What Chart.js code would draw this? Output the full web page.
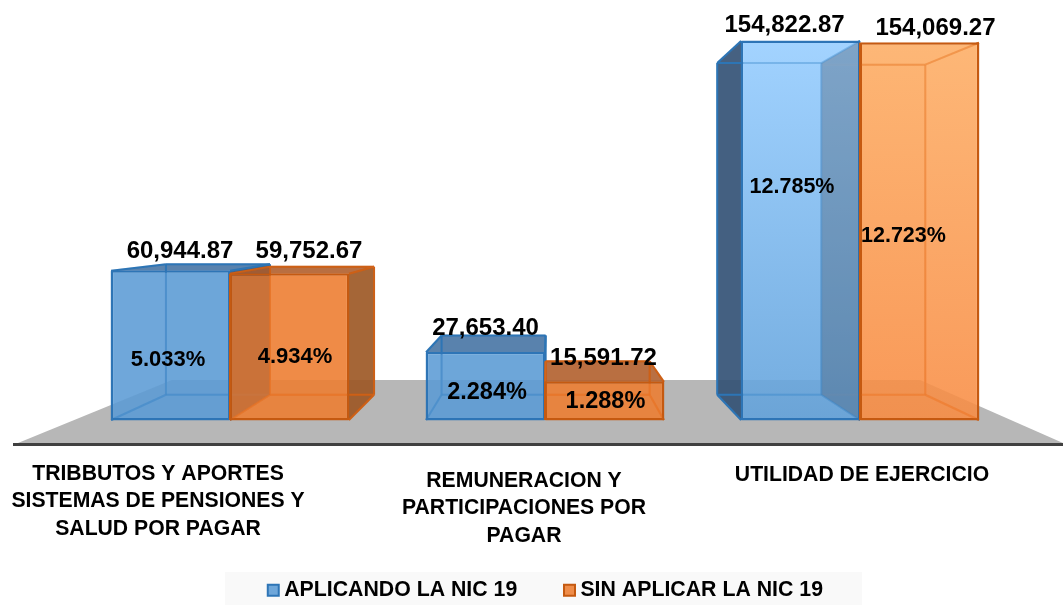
<!DOCTYPE html>
<html>
<head>
<meta charset="utf-8">
<style>
html,body{margin:0;padding:0;background:#fff}
#wrap{width:1063px;height:605px;position:relative}
</style>
<script src="https://cdn.jsdelivr.net/npm/chart.js@4/dist/chart.umd.min.js"></script>
</head>
<body>
<div id="wrap"><canvas id="c" width="1063" height="605"></canvas></div>
<script>
const categories = ["TRIBBUTOS Y APORTES SISTEMAS DE PENSIONES Y SALUD POR PAGAR","REMUNERACION Y PARTICIPACIONES POR PAGAR","UTILIDAD DE EJERCICIO"];
const categoryLines = [["TRIBBUTOS Y APORTES","SISTEMAS DE PENSIONES Y","SALUD POR PAGAR"],["REMUNERACION Y","PARTICIPACIONES POR","PAGAR"],["UTILIDAD DE EJERCICIO"]];
const seriesNames = ["APLICANDO LA NIC 19","SIN APLICAR LA NIC 19"];
const aplicando = [60944.87,27653.40,154822.87];
const sinAplicar = [59752.67,15591.72,154069.27];
const pctAplicando = ["5.033%","2.284%","12.785%"];
const pctSinAplicar = ["4.934%","1.288%","12.723%"];

// layout constants (pixels / styling only)
const BASE_Y = 420, VP = {x:550,y:218}, K = 0.875;
const catLabelPos = [{x:158,y:474},{x:524,y:481},{x:862,y:475}];
const catLineH = 27.5;
const valueOff = [[{x:9.5,y:-19.5},{x:19.5,y:-22.5}],[{x:0,y:-23.5},{x:-1,y:-23.5}],[{x:-16,y:-15.5},{x:16,y:-14.5}]];
const pctOff = [[{x:-2.5,y:14.5,s:22},{x:5.5,y:10,s:22}],[{x:1.5,y:6,s:23.5},{x:1,y:0.5,s:23.5}],[{x:-8.5,y:-43,s:21.5},{x:-16,y:4.5,s:21.5}]];
const style = [
 {stroke:'#2e75b6', flat:'rgba(91,155,213,0.88)', gradTop:'rgba(150,205,255,0.88)', gradBot:'rgba(98,162,219,0.88)',
  side:'rgba(50,80,115,0.9)', top:'rgba(73,118,164,0.9)', back:'rgba(91,155,213,0.10)', edge:'rgba(46,117,182,0.16)', tint:'rgba(60,90,120,0.27)'},
 {stroke:'#c55a11', flat:'rgba(237,125,49,0.88)', gradTop:'rgba(253,173,100,0.88)', gradBot:'rgba(248,140,67,0.88)',
  side:'rgba(155,86,36,0.9)', top:'rgba(177,96,47,0.9)', back:'rgba(237,125,49,0.10)', edge:'rgba(230,115,40,0.25)', tint:'rgba(120,70,50,0.14)'}
];
const FONT = '"Liberation Sans", Arial, sans-serif';

function proj(x,y){return [VP.x+(x-VP.x)*K, VP.y+(y-VP.y)*K];}
function poly(ctx,pts,fill){ctx.beginPath();pts.forEach((p,i)=>i?ctx.lineTo(p[0],p[1]):ctx.moveTo(p[0],p[1]));ctx.closePath();if(fill){ctx.fillStyle=fill;ctx.fill();}}
function line(ctx,a,b){ctx.beginPath();ctx.moveTo(a[0],a[1]);ctx.lineTo(b[0],b[1]);ctx.stroke();}

function barGeom(el){
  const p=el.getProps(['x','y','base','width'],true);
  const l=p.x-p.width/2,r=p.x+p.width/2,t=p.y,b=p.base;
  return {l,r,t,b,fTL:[l,t],fTR:[r,t],fBL:[l,b],fBR:[r,b],bTL:proj(l,t),bTR:proj(r,t),bBL:proj(l,b),bBR:proj(r,b)};
}
function wire(ctx,g){
  line(ctx,g.bTL,g.bTR);line(ctx,g.bBL,g.bBR);line(ctx,g.bTL,g.bBL);line(ctx,g.bTR,g.bBR);
  line(ctx,g.fTL,g.bTL);line(ctx,g.fTR,g.bTR);line(ctx,g.fBL,g.bBL);line(ctx,g.fBR,g.bBR);
}
function drawBox(ctx,el,ds,cat,partnerOnRight){
  const g=barGeom(el), s=style[ds];
  poly(ctx,[g.bTL,g.bTR,g.bBR,g.bBL],s.back);
  poly(ctx,[g.fBL,g.fBR,g.bBR,g.bBL],s.back);
  // faces that stick out of the front rectangle
  if(g.bTR[0]>g.r) poly(ctx,[g.fTR,g.bTR,g.bBR,g.fBR],s.side);
  if(g.bTL[0]<g.l) poly(ctx,[g.fTL,g.bTL,g.bBL,g.fBL],s.side);
  if(g.bTL[1]<g.t) poly(ctx,[g.fTL,g.fTR,g.bTR,g.bTL],s.top);
  ctx.lineWidth=2;ctx.lineJoin='round';ctx.strokeStyle=s.stroke;
  wire(ctx,g);
  el.draw(ctx);
  // shared inner wall seen through the front face
  if(partnerOnRight && g.bTR[0]<g.r) poly(ctx,[g.fTR,g.bTR,g.bBR,g.fBR],s.tint);
  if(!partnerOnRight && g.bTL[0]>g.l+1) poly(ctx,[g.fTL,g.bTL,g.bBL,g.fBL],s.tint);
  ctx.lineWidth=2;ctx.strokeStyle=s.edge;
  wire(ctx,g);
  ctx.lineWidth=1.5;ctx.strokeStyle=s.stroke;
  ctx.strokeRect(g.l+0.5,g.t+0.5,g.r-g.l-1,g.b-g.t-1);
}

const box3d = {
  id:'box3d',
  afterLayout(chart){
    const l=chart.legend;
    l.top=527.5;l.bottom=660;l.left+=3;l.right+=3;
  },
  beforeDraw(chart){
    const c=chart.ctx;
    c.save();
    c.fillStyle='#f9f9f9';c.fillRect(225,572,637,33);
    c.restore();
  },
  beforeDatasetsDraw(chart){
    const c=chart.ctx;
    c.save();
    // floor
    poly(c,[[18,443],[172,380],[920,380],[1063,443]],'#b7b7b7');
    c.fillStyle='#404040';c.fillRect(13,443,1050,3);
    const m0=chart.getDatasetMeta(0).data, m1=chart.getDatasetMeta(1).data;
    categories.forEach((_,i)=>{
      const a=barGeom(m0[i]), b=barGeom(m1[i]);
      const blueFirst=Math.abs(a.l-VP.x)>=Math.abs(b.r-VP.x);
      if(blueFirst){drawBox(c,m0[i],0,i,true);drawBox(c,m1[i],1,i,false);}
      else{drawBox(c,m1[i],1,i,false);drawBox(c,m0[i],0,i,true);}
      // seam between the two front faces
      c.strokeStyle=style[1].stroke;c.lineWidth=2;
      line(c,[b.l,Math.max(a.t,b.t)],[b.l,b.b]);
    });
    c.restore();
  },
  beforeDatasetDraw(){return false;},
  afterDatasetsDraw(chart){
    const c=chart.ctx;
    c.save();
    c.fillStyle='#000';c.textAlign='center';c.textBaseline='middle';
    const vals=[aplicando,sinAplicar], pcts=[pctAplicando,pctSinAplicar];
    [0,1].forEach(d=>{
      chart.getDatasetMeta(d).data.forEach((el,i)=>{
        const g=barGeom(el), cx=(g.l+g.r)/2, cy=(g.t+g.b)/2;
        c.font='bold 24px '+FONT;
        c.fillText(vals[d][i].toLocaleString('en-US',{minimumFractionDigits:2,maximumFractionDigits:2}),cx+valueOff[i][d].x,g.t+valueOff[i][d].y);
        const o=pctOff[i][d];
        c.font='bold '+o.s+'px '+FONT;
        c.fillText(pcts[d][i],cx+o.x,cy+o.y);
      });
    });
    c.font='bold 21.2px '+FONT;
    categoryLines.forEach((lines,i)=>{
      lines.forEach((t,j)=>c.fillText(t,catLabelPos[i].x,catLabelPos[i].y+j*catLineH));
    });
    c.restore();
  }
};

function fillFor(ds){
  return ctx=>{
    const s=style[ds];
    if(ctx.dataIndex!==2) return s.flat;
    const ch=ctx.chart, y=ch.scales.y;
    if(!y||!ch.chartArea) return s.flat;
    const g=ch.ctx.createLinearGradient(0,y.getPixelForValue(ctx.raw),0,y.getPixelForValue(0));
    g.addColorStop(0,s.gradTop);g.addColorStop(1,s.gradBot);
    return g;
  };
}

new Chart(document.getElementById('c'),{
  type:'bar',
  data:{labels:categories,datasets:[
    {label:seriesNames[0],data:aplicando,backgroundColor:fillFor(0),borderColor:style[0].stroke,borderWidth:2,borderSkipped:false,inflateAmount:0,categoryPercentage:0.755,barPercentage:1},
    {label:seriesNames[1],data:sinAplicar,backgroundColor:fillFor(1),borderColor:style[1].stroke,borderWidth:2,borderSkipped:false,inflateAmount:0,categoryPercentage:0.755,barPercentage:1}
  ]},
  options:{
    responsive:false,animation:false,
    layout:{padding:{left:72.5,right:45.5,top:16,bottom:-40}},
    plugins:{
      tooltip:{enabled:false},
      legend:{display:true,position:'bottom',align:'center',onClick:null,
        labels:{usePointStyle:true,boxWidth:0.5,boxHeight:11,padding:52,color:'#000',font:{family:FONT,size:21.3,weight:'bold'},
          generateLabels:()=>seriesNames.map((n,i)=>({text:n,fillStyle:style[i].flat,strokeStyle:style[i].stroke,fontColor:'#000',lineWidth:2,pointStyle:'rect',datasetIndex:i,hidden:false}))}
      }
    },
    scales:{
      x:{display:true,grid:{display:false},border:{display:false},ticks:{display:false},
         afterFit(sc){const l=sc.chart.legend;sc.height=605+40-(l?l.height:110)-BASE_Y;}},
      y:{display:false,min:0,max:165000}
    }
  },
  plugins:[box3d]
});
</script>
</body>
</html>
